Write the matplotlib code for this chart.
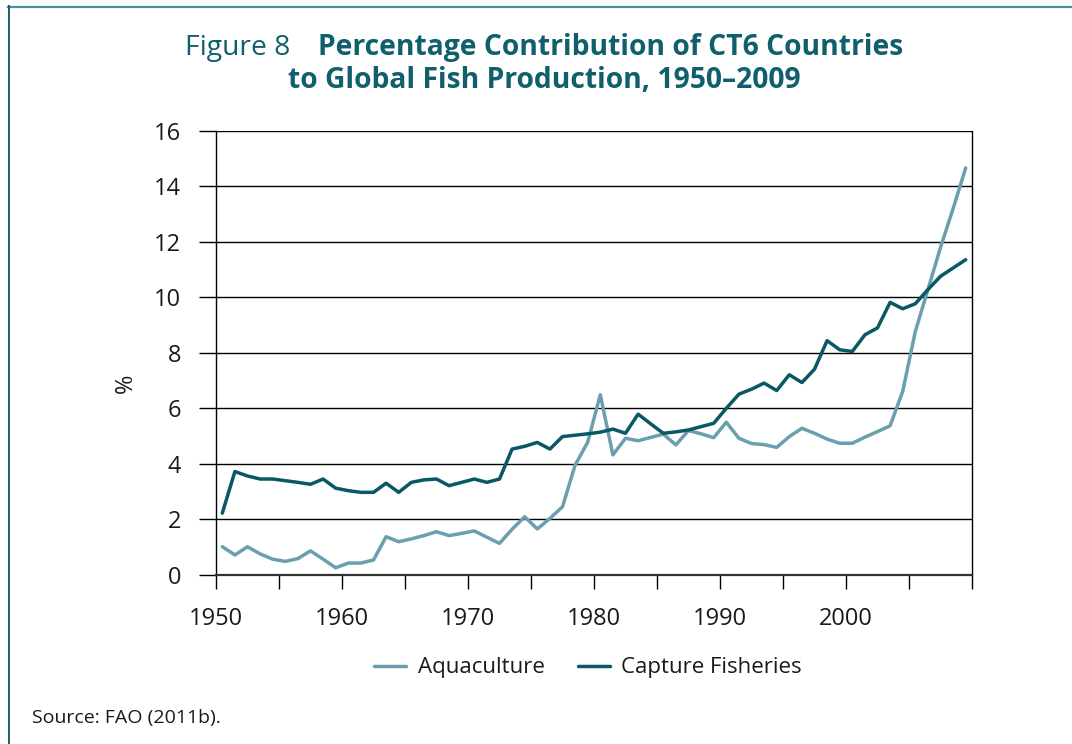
import numpy as np
import matplotlib
matplotlib.use('Agg')
from matplotlib import pyplot as plt
from matplotlib.lines import Line2D


### data ###
years = np.arange(1950, 2010)

aquaculture = [1.01, 0.71, 1.01, 0.75, 0.56, 0.48, 0.58, 0.86, 0.56, 0.25,
               0.42, 0.42, 0.53, 1.37, 1.19, 1.29, 1.41, 1.55, 1.41, 1.49,
               1.58, 1.35, 1.13, 1.64, 2.09, 1.65, 2.03, 2.45, 3.95, 4.78,
               6.49, 4.32, 4.92, 4.83, 4.95, 5.07, 4.68, 5.20, 5.08, 4.94,
               5.50, 4.92, 4.73, 4.69, 4.59, 4.98, 5.28, 5.10, 4.89, 4.74,
               4.74, 4.96, 5.16, 5.37, 6.61, 8.77, 10.28, 11.80, 13.20, 14.67]

capture = [2.22, 3.72, 3.56, 3.45, 3.45, 3.39, 3.33, 3.26, 3.45, 3.12,
           3.03, 2.97, 2.97, 3.30, 2.97, 3.33, 3.42, 3.45, 3.21, 3.33,
           3.45, 3.33, 3.45, 4.53, 4.63, 4.77, 4.53, 4.98, 5.03, 5.08,
           5.14, 5.25, 5.10, 5.79, 5.44, 5.10, 5.15, 5.22, 5.34, 5.46,
           6.00, 6.51, 6.69, 6.91, 6.64, 7.21, 6.93, 7.41, 8.44, 8.11,
           8.05, 8.65, 8.90, 9.82, 9.59, 9.77, 10.28, 10.76, 11.06, 11.36]

y_ticks = [0, 2, 4, 6, 8, 10, 12, 14, 16]
x_tick_labels = ['1950', '', '1960', '', '1970', '', '1980', '', '1990', '',
                 '2000', '', '']

# colours
aqua_col = '#6b9fae'
capt_col = '#0a5866'
title_col = '#0f5f6c'

plt.rcParams['font.family'] = ['Open Sans', 'DejaVu Sans']

W, H = 1072, 744
fig = plt.figure(figsize=(W / 100, H / 100), dpi=100)

# plot area in pixels: x 216..972, y 131..574.7
ax = fig.add_axes([216 / W, 1 - 574.7 / H, 756 / W, (574.7 - 131) / H])
ax.plot(years, aquaculture, color=aqua_col, lw=2.5, label='Aquaculture',
        solid_joinstyle='round', solid_capstyle='round', zorder=3)
ax.plot(years, capture, color=capt_col, lw=2.5, label='Capture Fisheries',
        solid_joinstyle='round', solid_capstyle='round', zorder=4)

ax.set_xlim(1949.5, 2009.5)
ax.set_ylim(0, 16)
ax.set_yticks(y_ticks)
ax.set_xticks(np.arange(1949.5, 2010, 5))
ax.set_xticklabels(x_tick_labels)
ax.grid(axis='y', color='black', lw=1.0)
ax.set_axisbelow(True)

ax.spines['top'].set_visible(False)
for s in ['left', 'right']:
    ax.spines[s].set_color('black')
    ax.spines[s].set_linewidth(1.0)
ax.spines['bottom'].set_color('#333333')
ax.spines['bottom'].set_linewidth(1.6)

ax.tick_params(axis='y', length=12, width=1, pad=13, labelsize=17,
               colors='black', labelcolor='#1a1a1a')
ax.tick_params(axis='x', length=10, width=1, pad=13, labelsize=17,
               colors='black', labelcolor='#1a1a1a')

ax.set_ylabel('%', fontsize=17, color='#1a1a1a')
ax.yaxis.set_label_coords(-0.104, 0.432)

fig.legend(loc='center', bbox_to_anchor=(588 / W, 1 - 668 / H), ncol=2,
           frameon=False, fontsize=16, handlelength=1.45, handletextpad=0.5,
           columnspacing=1.5, labelcolor='#1a1a1a')

# title: regular "Figure 8" + bold text, line 2 bold, centred
fig.canvas.draw()
renderer = fig.canvas.get_renderer()
tsize = 20.3
t1a = fig.text(0, 1 - 55 / H, 'Figure 8', fontsize=tsize, color=title_col,
               va='baseline', ha='left')
t1b = fig.text(0, 1 - 55 / H, 'Percentage Contribution of CT6 Countries',
               fontsize=tsize, color=title_col, fontweight='bold',
               va='baseline', ha='left')
wa = t1a.get_window_extent(renderer).width
wb = t1b.get_window_extent(renderer).width
gap = 27
x0 = 544 - (wa + gap + wb) / 2
t1a.set_x(x0 / W)
t1b.set_x((x0 + wa + gap) / W)
fig.text(544 / W, 1 - 88 / H, 'to Global Fish Production, 1950\u20132009',
         fontsize=tsize, color=title_col, fontweight='bold',
         va='baseline', ha='center')

fig.text(32 / W, 1 - 718 / H, 'Source: FAO (2011b).', fontsize=14,
         color='#1a1a1a', va='center', ha='left')

# frame lines at top and left
fig.add_artist(Line2D([8 / W, 1], [1 - 7 / H, 1 - 7 / H], color='#4f8f99',
                      lw=1.6, transform=fig.transFigure))
fig.add_artist(Line2D([8.5 / W, 8.5 / W], [0, 1 - 6 / H], color='#1b5e69',
                      lw=1.4, transform=fig.transFigure))

fig.savefig('out.png', dpi=100)
